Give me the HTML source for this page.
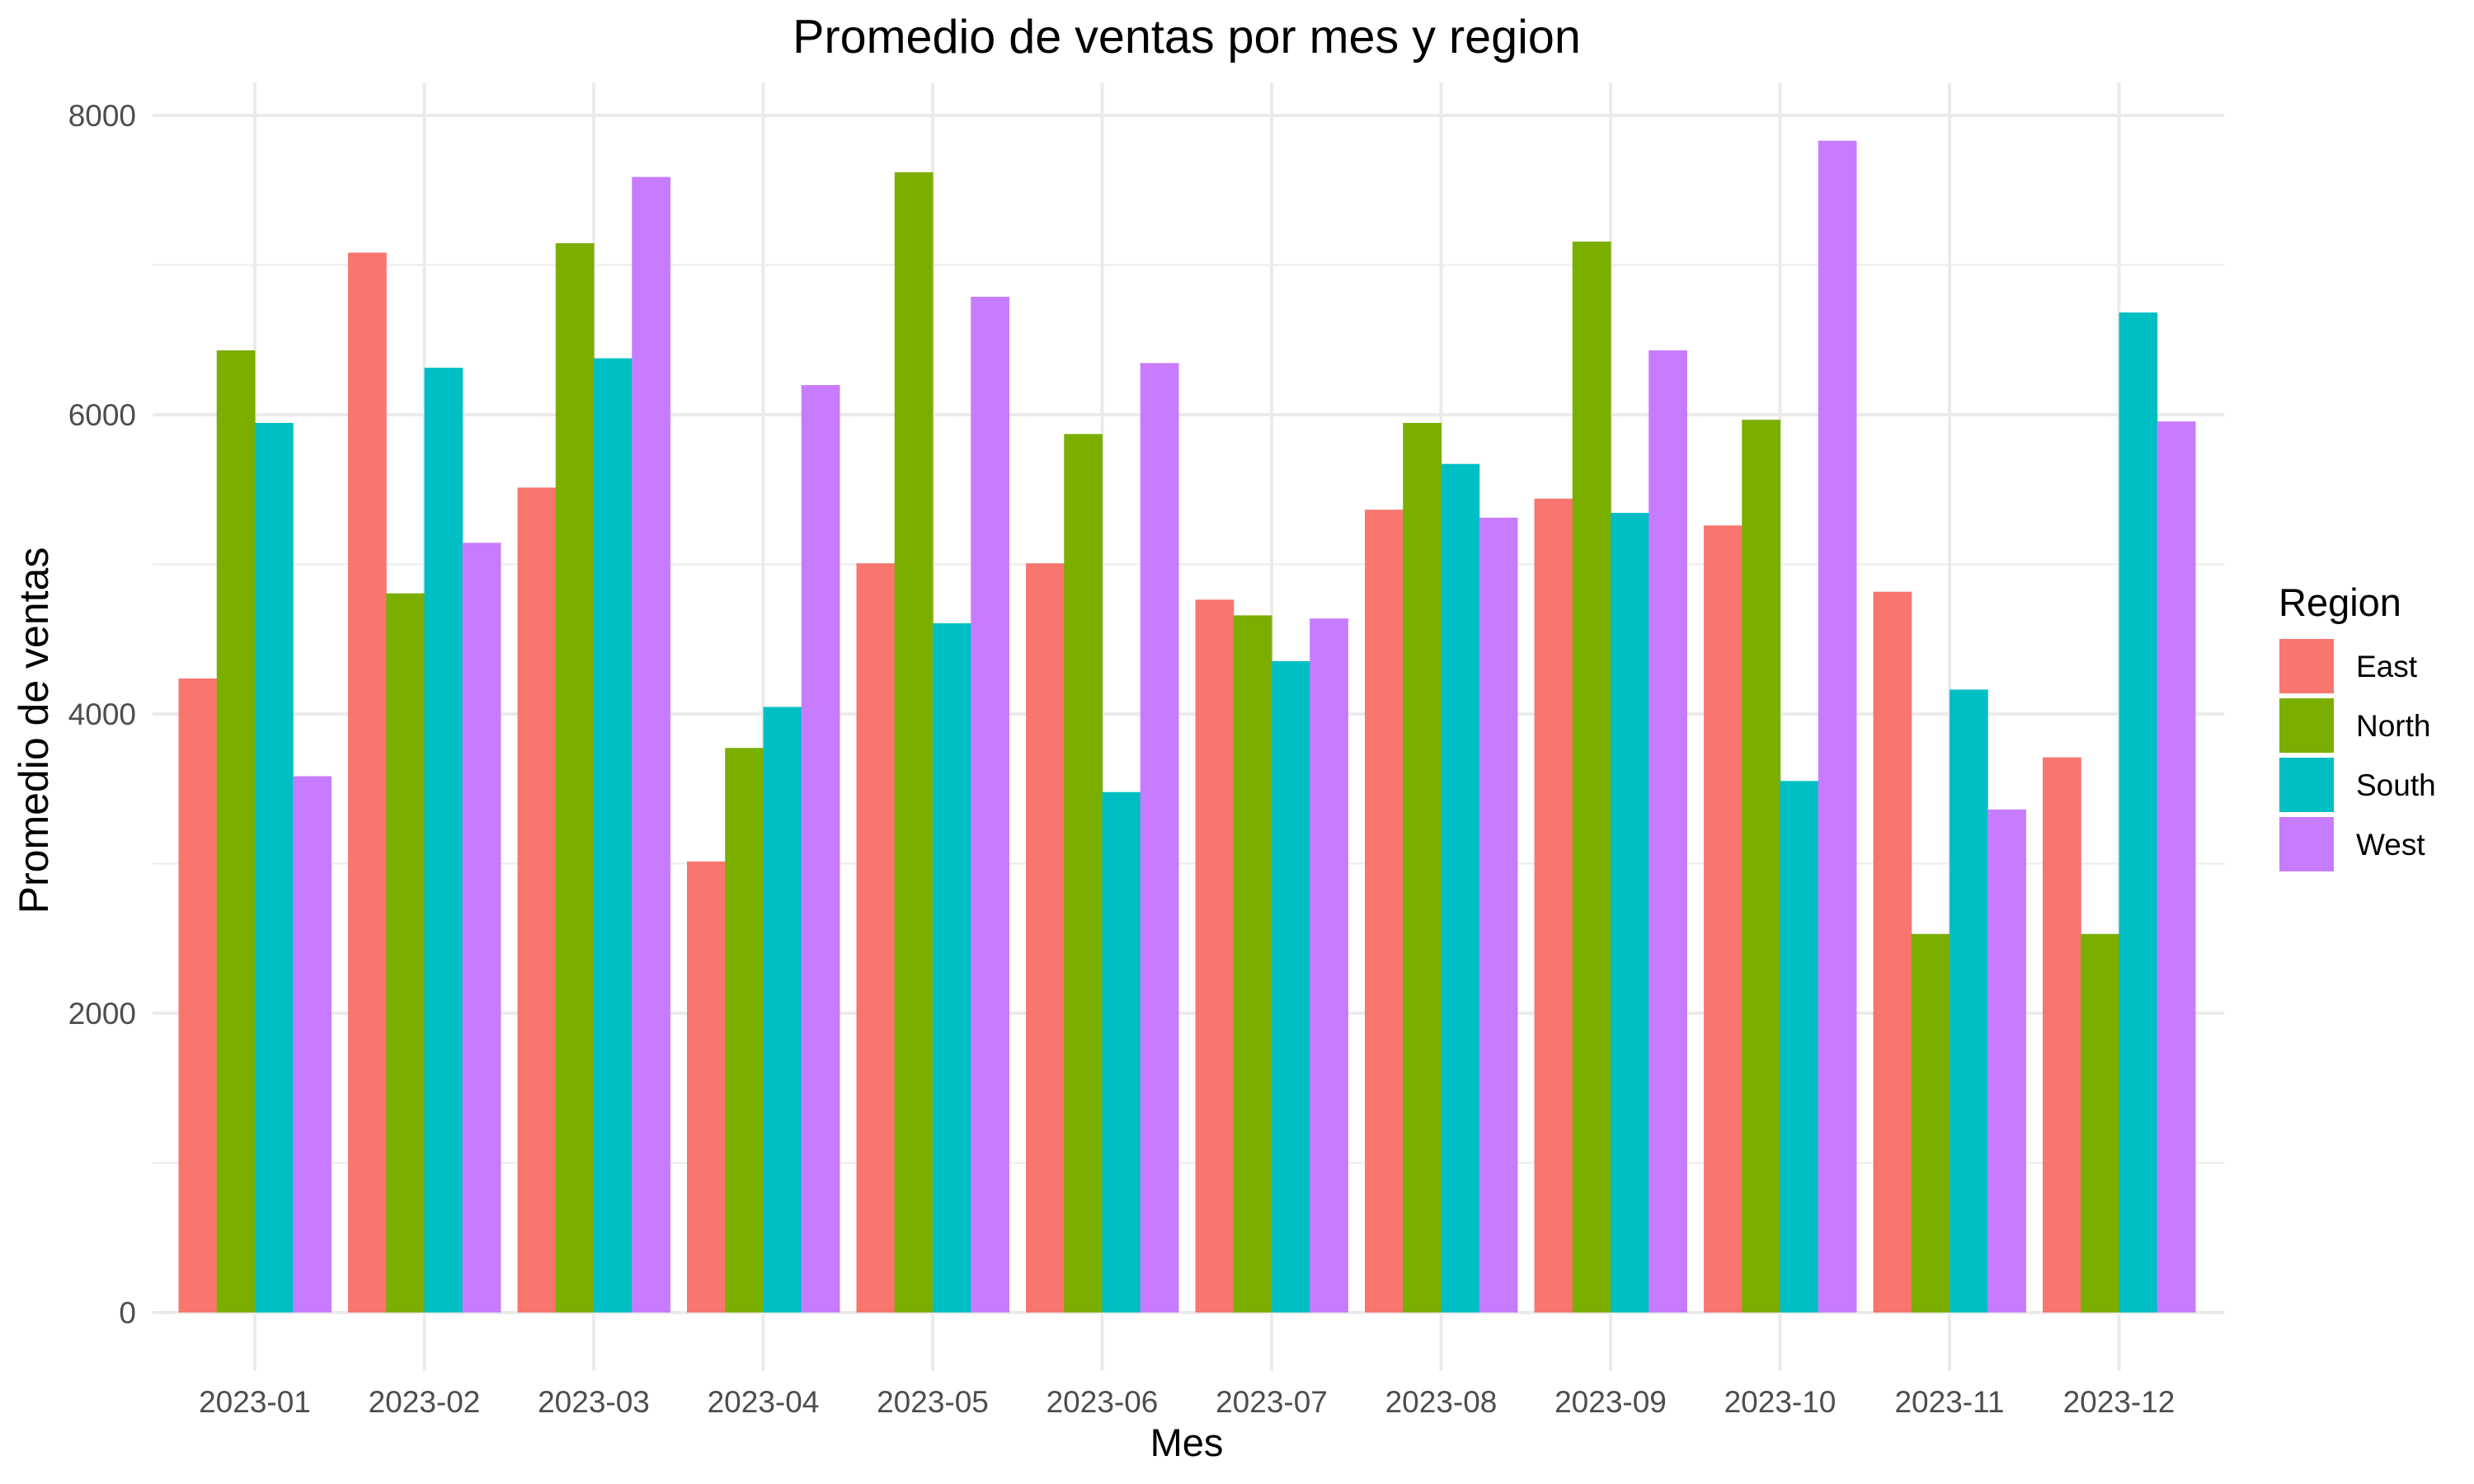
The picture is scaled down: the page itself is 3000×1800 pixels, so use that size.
<!DOCTYPE html>
<html><head><meta charset="utf-8"><style>
html,body{margin:0;padding:0;background:#fff;}
svg{display:block;font-family:"Liberation Sans",Arial,sans-serif;}
</style></head><body>
<svg id="chart" width="3000" height="1800" viewBox="0 0 3000 1800" xmlns="http://www.w3.org/2000/svg">
<rect width="3000" height="1800" fill="#fff"/>
<g id="grid"></g>
<g id="bars"></g>
<g id="axes"></g>
<text x="1439" y="64" font-size="57.5" text-anchor="middle" fill="#000">Promedio de ventas por mes y region</text>
<text x="1439" y="1766" font-size="47" text-anchor="middle" fill="#000">Mes</text>
<text transform="translate(58,886) rotate(-90)" font-size="50" text-anchor="middle" fill="#000">Promedio de ventas</text>
<g id="legend">
<text x="2763" y="747" font-size="47" fill="#000">Region</text>
</g>
</svg>
<script>
const months = ["2023-01","2023-02","2023-03","2023-04","2023-05","2023-06","2023-07","2023-08","2023-09","2023-10","2023-11","2023-12"];
const regions = ["East","North","South","West"];
const colors = ["#F8766D","#7CAE00","#00BFC4","#C77CFF"];
const east  = [4237,7083,5513,3014,5007,5007,4764,5365,5439,5260,4817,3710];
const north = [6430,4806,7146,3773,7620,5871,4659,5945,7157,5966,2530,2530];
const south = [5945,6314,6377,4047,4606,3478,4353,5671,5344,3552,4163,6683];
const west  = [3584,5144,7589,6198,6788,6345,4638,5312,6430,7831,3362,5955];
const yTicks = [0,2000,4000,6000,8000];
const yMinor = [1000,3000,5000,7000];

const NS="http://www.w3.org/2000/svg";
const series=[east,north,south,west];
const panelL=185, panelR=2697, gridTop=100;
const y0=1592, pxPerUnit=1452/8000;
const yScale=v=>y0-v*pxPerUnit;
const x0=309, step=205.5;
const xScale=i=>x0+i*step;
const groupW=step*0.9, barW=groupW/4;
function mk(tag,attrs,parent){const e=document.createElementNS(NS,tag);for(const k in attrs)e.setAttribute(k,attrs[k]);parent.appendChild(e);return e;}
const grid=document.getElementById('grid'), bars=document.getElementById('bars'), axes=document.getElementById('axes'), legend=document.getElementById('legend');
yMinor.forEach(v=>{const l=mk('line',{x1:panelL,x2:panelR,y1:yScale(v),y2:yScale(v),stroke:'#ebebeb','stroke-width':2},grid);

});
yTicks.forEach(v=>{const l=mk('line',{x1:panelL,x2:panelR,y1:yScale(v),y2:yScale(v),stroke:'#ebebeb','stroke-width':4},grid);


const t=mk('text',{x:165,y:yScale(v)+13,'font-size':37,'text-anchor':'end',fill:'#4d4d4d'},axes);t.textContent=v;

});
months.forEach((m,i)=>{const l=mk('line',{x1:xScale(i),x2:xScale(i),y1:gridTop,y2:1663,stroke:'#ebebeb','stroke-width':4},grid);


const t=mk('text',{x:xScale(i),y:1713,'font-size':37,'text-anchor':'middle',fill:'#4d4d4d'},axes);t.textContent=m;


series.forEach((s,j)=>{const x=xScale(i)-groupW/2+j*barW;const r=mk('rect',{x:x,y:yScale(s[i]),width:barW+0.5,height:y0-yScale(s[i]),fill:colors[j]},bars);

});});
regions.forEach((r,j)=>{const y=775+j*72;
const k=mk('rect',{x:2764,y:y,width:66,height:66,fill:colors[j]},legend);


const t=mk('text',{x:2857,y:y+46,'font-size':37,fill:'#000'},legend);t.textContent=r;

});
</script>
</body></html>
